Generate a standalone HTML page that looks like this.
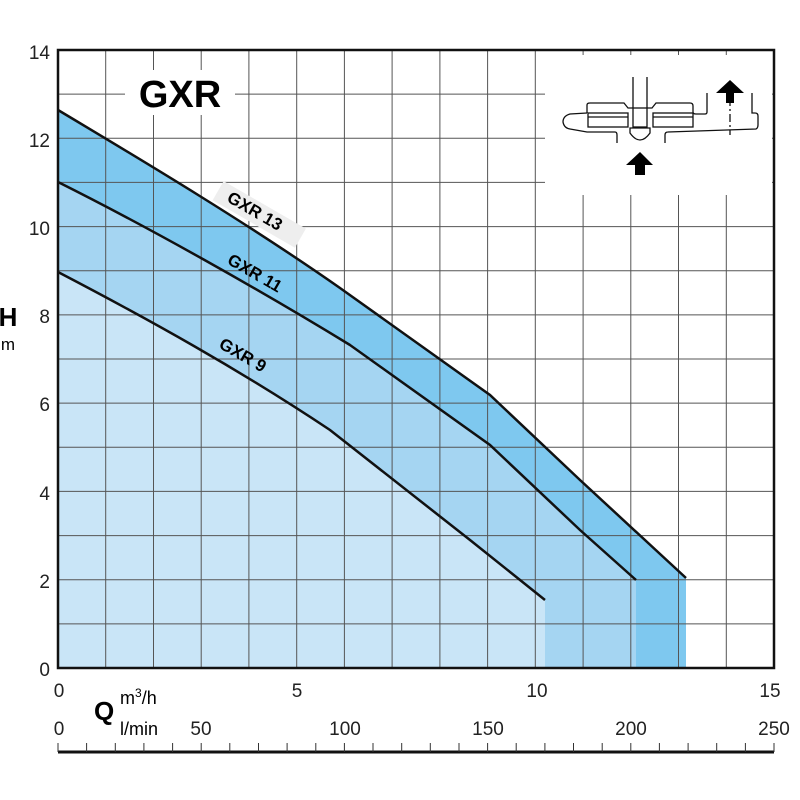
<!DOCTYPE html>
<html><head><style>body{margin:0;background:#fff}svg{display:block}text{font-family:"Liberation Sans",sans-serif}</style></head><body>
<svg width="800" height="800" viewBox="0 0 800 800">
<rect width="800" height="800" fill="#fff"/>
<path d="M58,110 C150,165 250,225 340,288 L490,395 L580,480 L686,578 L686,668 L58,668Z" fill="#7ec8ef"/>
<path d="M58,182 C150,228 260,290 350,345 L490,445 L580,530 L636,580 L636,668 L58,668Z" fill="#a5d5f2"/>
<path d="M58,272 C150,320 240,370 330,430 L470,540 L545,600 L545,668 L58,668Z" fill="#c9e5f7"/>
<g stroke="#555" stroke-width="1">
<line x1="105.7" y1="50" x2="105.7" y2="668"/><line x1="153.5" y1="50" x2="153.5" y2="668"/><line x1="201.2" y1="50" x2="201.2" y2="668"/><line x1="248.9" y1="50" x2="248.9" y2="668"/><line x1="296.7" y1="50" x2="296.7" y2="668"/><line x1="344.4" y1="50" x2="344.4" y2="668"/><line x1="392.1" y1="50" x2="392.1" y2="668"/><line x1="439.9" y1="50" x2="439.9" y2="668"/><line x1="487.6" y1="50" x2="487.6" y2="668"/><line x1="535.3" y1="50" x2="535.3" y2="668"/><line x1="583.1" y1="50" x2="583.1" y2="668"/><line x1="630.8" y1="50" x2="630.8" y2="668"/><line x1="678.5" y1="50" x2="678.5" y2="668"/><line x1="726.3" y1="50" x2="726.3" y2="668"/>
<line x1="58" y1="623.9" x2="774" y2="623.9"/><line x1="58" y1="579.7" x2="774" y2="579.7"/><line x1="58" y1="535.6" x2="774" y2="535.6"/><line x1="58" y1="491.4" x2="774" y2="491.4"/><line x1="58" y1="447.3" x2="774" y2="447.3"/><line x1="58" y1="403.1" x2="774" y2="403.1"/><line x1="58" y1="359" x2="774" y2="359"/><line x1="58" y1="314.9" x2="774" y2="314.9"/><line x1="58" y1="270.7" x2="774" y2="270.7"/><line x1="58" y1="226.6" x2="774" y2="226.6"/><line x1="58" y1="182.4" x2="774" y2="182.4"/><line x1="58" y1="138.3" x2="774" y2="138.3"/><line x1="58" y1="94.1" x2="774" y2="94.1"/>
</g>
<rect x="545" y="55" width="227" height="140" fill="#fff"/>
<rect x="125" y="70" width="110" height="45" fill="#fff"/>
<text x="180" y="107" font-size="38" font-weight="bold" text-anchor="middle">GXR</text>
<g fill="none" stroke="#111" stroke-width="2.5">
<path d="M58,110 C150,165 250,225 340,288 L490,395 L580,480 L686,578"/>
<path d="M58,182 C150,228 260,290 350,345 L490,445 L580,530 L636,580"/>
<path d="M58,272 C150,320 240,370 330,430 L470,540 L545,600"/>
</g>
<g font-weight="bold" font-size="17">
<g transform="translate(252,216) rotate(30)"><rect x="-42" y="-16" width="95" height="22" fill="#eee"/><text x="0" y="0" text-anchor="middle">GXR 13</text></g>
<text transform="translate(252,278) rotate(30)" text-anchor="middle">GXR 11</text>
<text transform="translate(240,360) rotate(30)" text-anchor="middle">GXR 9</text>
</g>
<rect x="58" y="50" width="716" height="618" fill="none" stroke="#111" stroke-width="2.5"/>
<g font-size="19" fill="#222" text-anchor="end">
<text x="50" y="676">0</text><text x="50" y="588">2</text><text x="50" y="500">4</text><text x="50" y="411">6</text><text x="50" y="323">8</text><text x="50" y="235">10</text><text x="50" y="147">12</text><text x="50" y="59">14</text>
</g>
<text x="8" y="326" font-size="26" font-weight="bold" text-anchor="middle">H</text>
<text x="8" y="350" font-size="17" text-anchor="middle">m</text>
<g font-size="19" fill="#222" text-anchor="middle">
<text x="59" y="697">0</text><text x="297" y="697">5</text><text x="537" y="697">10</text><text x="770" y="697">15</text>
<text x="59" y="735">0</text><text x="201" y="735">50</text><text x="345" y="735">100</text><text x="488" y="735">150</text><text x="631" y="735">200</text><text x="774" y="735">250</text>
</g>
<text x="94" y="720" font-size="26" font-weight="bold">Q</text>
<text x="120" y="704" font-size="18">m<tspan font-size="12" dy="-7">3</tspan><tspan dy="7">/h</tspan></text>
<text x="120" y="735" font-size="18">l/min</text>
<line x1="58" y1="752" x2="774" y2="752" stroke="#111" stroke-width="3"/>
<g stroke="#333" stroke-width="1"><path d="M58,743V752M86.6,743V752M115.3,743V752M143.9,743V752M172.6,743V752M201.2,743V752M229.8,743V752M258.5,743V752M287.1,743V752M315.8,743V752M344.4,743V752M373,743V752M401.7,743V752M430.3,743V752M459,743V752M487.6,743V752M516.2,743V752M544.9,743V752M573.5,743V752M602.2,743V752M630.8,743V752M659.4,743V752M688.1,743V752M716.7,743V752M745.4,743V752M774,743V752"/></g>
<g fill="none" stroke="#111" stroke-width="1.3">
<path d="M587,113 L587,105 Q587,103 590,103 L624,103 L628,108 L633,108"/>
<path d="M647,108 L652,108 L656,103 L690,103 Q693,103 693,106 L693,112 Q693,114 696,114 L705,114 Q707,114 707,112 L707,93"/>
<path d="M587,113 L570,114 Q563,116 563,122 Q564,128 570,129 L587,132 L615,132 Q617,132 617,135 L617,143"/>
<path d="M665,143 L665,135 Q665,132 668,132 L756,129 Q758,128 758,125 L758,116 Q758,113 755,113 L752,113 L752,93"/>
<rect x="588" y="113" width="40" height="14"/><rect x="653" y="113" width="40" height="14"/>
<line x1="588" y1="117" x2="628" y2="117"/><line x1="653" y1="117" x2="693" y2="117"/>
<rect x="633" y="108" width="14" height="19"/>
<path d="M630,128 h20 v5 q-10,14 -20,0z"/>
<path d="M633,77 V108 M647,77 V108"/>
<path d="M730,98 V135" stroke-dasharray="8,3,2,3"/>
</g>
<path d="M716,93 L730,80 L744,93 L734,93 L734,103 L726,103 L726,93Z M626,165 L640,152 L653,165 L645,165 L645,175 L635,175 L635,165Z" fill="#000"/>
</svg>
</body></html>
